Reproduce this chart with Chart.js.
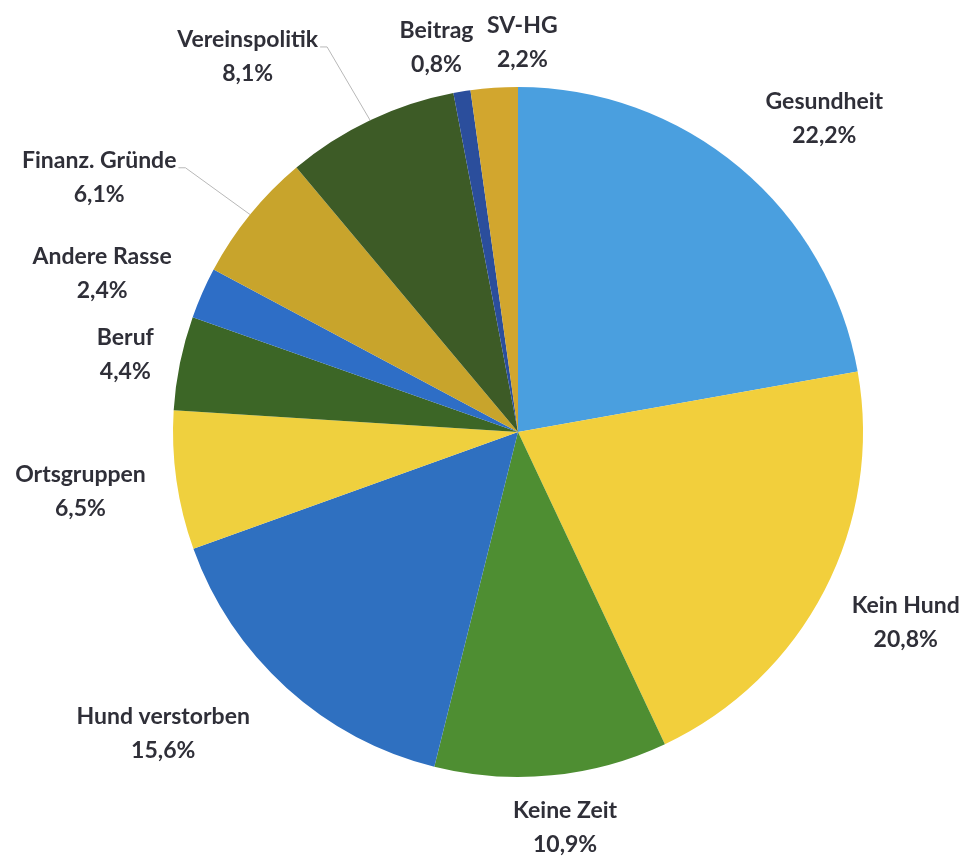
<!DOCTYPE html>
<html>
<head>
<meta charset="utf-8">
<script src="https://cdn.jsdelivr.net/npm/chart.js@4.4.0/dist/chart.umd.min.js"></script>
<style>
  html, body { margin: 0; padding: 0; background: #fff; }
  #wrap { width: 969px; height: 859px; }
</style>
</head>
<body>
<div id="wrap"><canvas id="pie" width="969" height="859"></canvas></div>
<script>
// Data (clockwise from 12 o'clock)
const categories = ['Gesundheit', 'Kein Hund', 'Keine Zeit', 'Hund verstorben', 'Ortsgruppen',
  'Beruf', 'Andere Rasse', 'Finanz. Gründe', 'Vereinspolitik', 'Beitrag', 'SV-HG'];
const shares = [22.2, 20.8, 10.9, 15.6, 6.5, 4.4, 2.4, 6.1, 8.1, 0.8, 2.2];
const sliceColors = ['#4a9fdf', '#f2cf3c', '#4e8e32', '#2f70c0', '#efd03e',
  '#3c6626', '#2e6ec6', '#c8a42c', '#3d5b26', '#2b4e9c', '#d2a62e'];

// label placement: angle nudge (deg) and distance as a multiple of the radius
const labelShift = [4.4, -1.2, -1.2, 7.5, 0.3, -0.4, -2.9, -7.8, -10.4, -2.6, 4.6];
const labelDist = [1.27, 1.252, 1.156, 1.35, 1.28, 1.16, 1.29, 1.42, 1.34, 1.14, 1.13];
const withLeader = [false, false, false, false, false, false, false, true, true, false, false];

const fmt = v => v.toFixed(1).replace('.', ',') + '%';

// Excel-style outside labels
const outsideLabels = {
  id: 'outsideLabels',
  afterDatasetsDraw(chart) {
    const ctx = chart.ctx;
    const meta = chart.getDatasetMeta(0);
    ctx.save();
    ctx.font = 'bold 23px Lato, "DejaVu Sans", sans-serif';
    ctx.textAlign = 'center';
    ctx.textBaseline = 'middle';
    meta.data.forEach((arc, i) => {
      const { x, y, startAngle, endAngle, outerRadius } = arc.getProps(['x', 'y', 'startAngle', 'endAngle', 'outerRadius'], true);
      const mid = (startAngle + endAngle) / 2;
      const a = mid + labelShift[i] * Math.PI / 180;
      const lx = x + Math.cos(a) * outerRadius * labelDist[i];
      const ly = y + Math.sin(a) * outerRadius * labelDist[i];

      if (withLeader[i]) {
        const w = ctx.measureText(categories[i]).width;
        const ex = x + Math.cos(mid) * outerRadius;
        const ey = y + Math.sin(mid) * outerRadius;
        ctx.strokeStyle = '#b8b8b8';
        ctx.lineWidth = 1;
        ctx.beginPath();
        ctx.moveTo(lx + w / 2 + 2, ly - 10);
        ctx.lineTo(lx + w / 2 + 9, ly - 10);
        ctx.lineTo(ex, ey);
        ctx.stroke();
      }

      ctx.fillStyle = '#2f2f38';
      ctx.fillText(categories[i], lx, ly - 17);
      ctx.fillText(fmt(shares[i]), lx, ly + 17);
    });
    ctx.restore();
  }
};

new Chart(document.getElementById('pie'), {
  type: 'pie',
  data: {
    labels: categories,
    datasets: [{
      data: shares,
      backgroundColor: sliceColors,
      borderWidth: 0
    }]
  },
  options: {
    responsive: false,
    animation: false,
    layout: { padding: { left: 173, right: 106, top: 87, bottom: 82 } },
    plugins: {
      legend: { display: false },
      tooltip: { enabled: false }
    }
  },
  plugins: [outsideLabels]
});
</script>
</body>
</html>
